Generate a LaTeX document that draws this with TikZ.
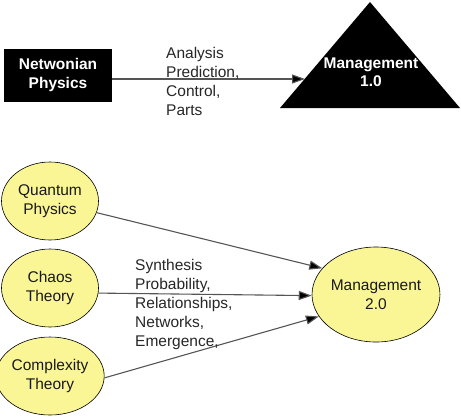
\documentclass[tikz,border=0pt]{standalone}
\usepackage{fontspec}
\setmainfont{Liberation Sans}
\usetikzlibrary{shapes.geometric,arrows.meta}
\definecolor{ellfill}{RGB}{250,246,150}
\definecolor{linegray}{RGB}{85,85,85}
\tikzset{
  lbl/.style={font=\fontsize{15.5}{19}\selectfont, align=left, inner sep=0pt, text=black!85},
  blk/.style={font=\fontsize{15.5}{18.5}\selectfont\bfseries, align=center, text=white, inner sep=0pt},
  ell/.style={ellipse, draw=black, line width=0.6pt, fill=ellfill, inner sep=0pt,
     minimum width=97pt, minimum height=78pt, align=center,
     font=\fontsize{15.5}{19}\selectfont, text=black!90},
  conn/.style={draw=linegray, line width=1.1pt, -{Triangle[length=13pt,width=9pt,fill=black]}}
}
\begin{document}
\begin{tikzpicture}[x=1pt,y=-1pt]
\useasboundingbox (0,0) rectangle (461,416);
% top row
\node[rectangle, fill=black, minimum width=108pt, minimum height=53pt, inner sep=0pt] (np) at (58,75.5) {};
\node[blk] (npt) at (58,75) {Netwonian\\Physics};
\fill[black] (370,2) -- (460,108) -- (280,108) -- cycle;
\node[blk] (m1) at (371,72) {Management\\1.0};
\coordinate (m1edge) at (305,79);
\draw[conn] (np.east |- m1edge) -- (m1edge);
\node[lbl, anchor=north west] (tl) at (166,47) {Analysis\\Prediction,\\Control,\\Parts};
% bottom
\node[ell] (q) at (50,201) {Quantum\\Physics};
\node[ell] (c) at (50,288) {Chaos\\Theory};
\node[ell] (x) at (50,376) {Complexity\\Theory};
\node[ell, minimum width=121pt, minimum height=95pt] (m2) at (376,294.5) {Management\\2.0};
\draw[conn] (q.-14) -- (m2.154);
\draw[conn] (c.-6) -- (m2.181);
\draw[conn] (x.-2) -- (m2.201);
\node[lbl, anchor=north west] (bl) at (135,259) {Synthesis\\Probability,\\Relationships,\\Networks,\\Emergence,};
\end{tikzpicture}
\end{document}
